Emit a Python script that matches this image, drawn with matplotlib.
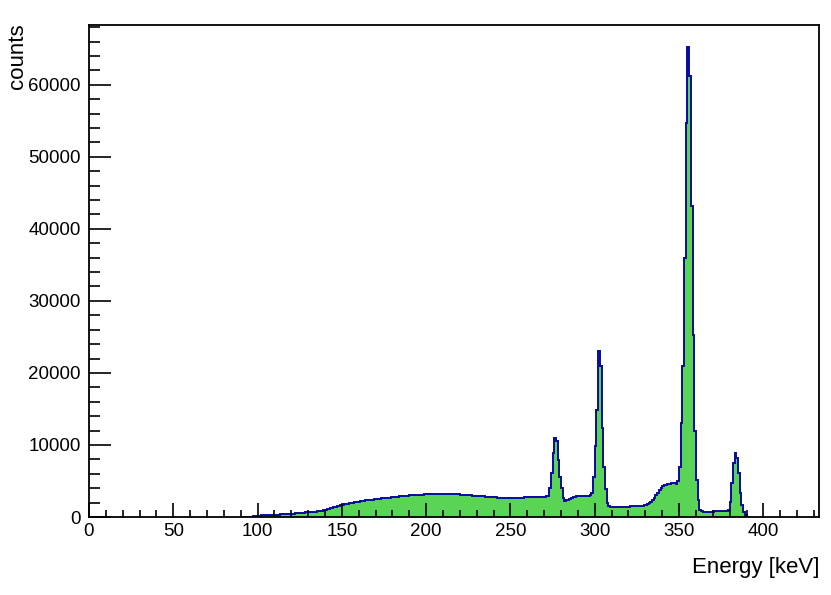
import numpy as np
import matplotlib
matplotlib.use("Agg")
import matplotlib.pyplot as plt

# Histogram: 1 keV bins starting at 90 keV
bin_start = 90
bin_width = 1.0
counts = [
    0, 0, 0, 10, 20, 40, 60, 90, 120, 150,                      # 90
    180, 195, 210, 230, 250, 260, 280, 290, 305, 320,           # 100
    330, 340, 345, 355, 360, 370, 385, 400, 420, 435,           # 110
    450, 470, 490, 510, 535, 560, 585, 610, 640, 660,           # 120
    680, 700, 720, 740, 760, 780, 820, 860, 900, 940,           # 130
    980, 1050, 1120, 1190, 1270, 1350, 1420, 1490, 1560, 1630,  # 140
    1700, 1750, 1800, 1860, 1910, 1950, 1990, 2030, 2070, 2110, # 150
    2150, 2190, 2220, 2260, 2300, 2330, 2360, 2390, 2420, 2450, # 160
    2480, 2510, 2540, 2570, 2600, 2620, 2650, 2680, 2700, 2720, # 170
    2750, 2780, 2810, 2830, 2860, 2900, 2920, 2940, 2960, 2980, # 180
    3000, 3010, 3030, 3050, 3060, 3080, 3090, 3110, 3120, 3140, # 190
    3150, 3160, 3170, 3180, 3190, 3200, 3210, 3220, 3230, 3240, # 200
    3250, 3240, 3240, 3230, 3210, 3200, 3190, 3170, 3160, 3140, # 210
    3120, 3100, 3080, 3060, 3040, 3020, 3000, 2980, 2960, 2950, # 220
    2930, 2910, 2890, 2870, 2850, 2830, 2810, 2790, 2770, 2750, # 230
    2730, 2720, 2700, 2690, 2670, 2660, 2650, 2640, 2630, 2620, # 240
    2620, 2610, 2610, 2620, 2630, 2640, 2660, 2690, 2720, 2750, # 250
    2780, 2790, 2780, 2770, 2760, 2760, 2770, 2780, 2790, 2800, # 260
    2820, 2850, 2900, 4000, 6100, 8900, 10900, 10500, 7900, 5600,  # 270
    4000, 2600, 2260, 2350, 2420, 2500, 2650, 2750, 2820, 2870,    # 280
    2900, 2900, 2910, 2900, 2920, 2950, 2980, 3050, 3330, 5600,    # 290
    9800, 14900, 23000, 20900, 12400, 7000, 3900, 1900, 1550, 1450,  # 300
    1450, 1420, 1400, 1400, 1390, 1400, 1410, 1420, 1430, 1440,    # 310
    1450, 1460, 1470, 1480, 1500, 1520, 1540, 1560, 1590, 1620,    # 320
    1680, 1760, 1880, 2050, 2300, 2600, 3000, 3400, 3750, 4050,    # 330
    4250, 4400, 4500, 4600, 4650, 4700, 4720, 4680, 4600, 5000,    # 340
    7000, 13000, 21000, 36000, 54700, 65200, 61200, 43200, 25200, 11900,  # 350
    5100, 2400, 1000, 780, 760, 750, 750, 740, 750, 760,           # 360
    760, 770, 770, 780, 790, 800, 810, 820, 850, 970,              # 370
    2100, 4700, 7500, 8950, 8150, 6100, 3300, 1700, 700, 300,      # 380
    50, 0,                                                         # 390
]

x_min, x_max = 0, 433
y_max = 68300
x_label = "Energy [keV]"
y_label = "counts"

fill_color = "#59d454"
line_color = "#0a0a9e"

counts = np.array(counts, dtype=float)
edges = bin_start + bin_width * np.arange(len(counts) + 1)

plt.rcParams['font.family'] = ['Liberation Sans', 'DejaVu Sans']

fig = plt.figure(figsize=(8.31, 5.95), dpi=100)
ax = fig.add_axes([89/831, 78/595, (819-89)/831, (517-25)/595])

ax.stairs(counts, edges, fill=True, color=fill_color, linewidth=0)
ax.stairs(counts, edges, fill=False, color=line_color, linewidth=1.4)

ax.set_xlim(x_min, x_max)
ax.set_ylim(0, y_max)

ax.set_xticks(np.arange(0, 401, 50))
ax.set_xticks(np.arange(0, 431, 10), minor=True)
ax.set_yticks(np.arange(0, 60001, 10000))
ax.set_yticks(np.arange(0, 68001, 2000), minor=True)

ax.tick_params(axis='x', which='major', direction='in', length=10, width=1.2,
               labelsize=13.5, pad=4, top=False)
ax.tick_params(axis='x', which='minor', direction='in', length=5, width=1.2, top=False)
ax.tick_params(axis='y', which='major', direction='in', length=16, width=1.2,
               labelsize=13.5, pad=6, right=False)
ax.tick_params(axis='y', which='minor', direction='in', length=8, width=1.2, right=False)

for s in ax.spines.values():
    s.set_linewidth(1.3)

fig.text(819/831, 1 - 568/595, x_label, ha='right', va='center', fontsize=16)
fig.text(17/831, 1 - 56/595, y_label, ha='center', va='center', rotation=90, fontsize=16)

fig.savefig("out.png", dpi=100)
